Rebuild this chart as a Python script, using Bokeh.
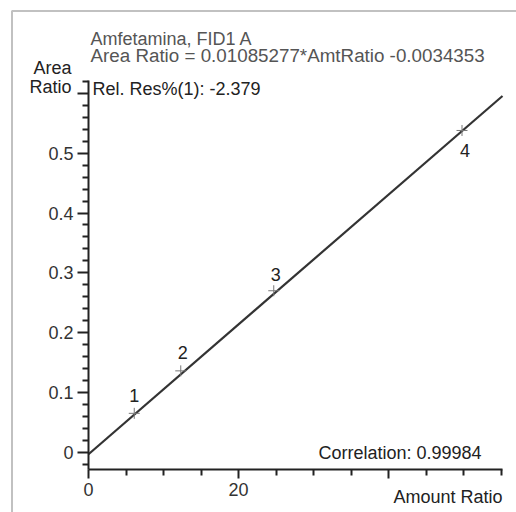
from bokeh.plotting import figure
from bokeh.models import Range1d, LinearAxis, FixedTicker, Label, BoxAnnotation, ColumnDataSource
from bokeh.embed import file_html
from bokeh.resources import INLINE
from bokeh.core.properties import value

# ---- chart content ----
compound = "Amfetamina, FID1 A"
slope = 0.01085277
intercept = -0.0034353
rel_res = -2.379
correlation = 0.99984
levels = ["1", "2", "3", "4"]
amount_ratio = [6.1, 12.3, 24.7, 49.8]
area_ratio = [0.065, 0.136, 0.270, 0.538]
x_ticks = [0, 20, 40]
x_tick_labels = ["0", "20", ""]
x_minor = [5, 10, 15, 25, 30, 35, 45, 50, 55]
y_ticks = [0, 0.1, 0.2, 0.3, 0.4, 0.5, 0.6]
y_tick_labels = ["0", "0.1", "0.2", "0.3", "0.4", "0.5", ""]
y_minor = [-0.02, 0.02, 0.04, 0.06, 0.08, 0.12, 0.14, 0.16, 0.18, 0.22, 0.24, 0.26, 0.28,
           0.32, 0.34, 0.36, 0.38, 0.42, 0.44, 0.46, 0.48, 0.52, 0.54, 0.56, 0.58, 0.62]
x_axis_max = 55.2
y_axis_min, y_axis_max = -0.029, 0.622

# ---- layout (pixel geometry of the canvas) ----
W, H = 516, 512
X0, XS = 88.0, 7.5     # pixel of x=0, pixels per x unit
Y0, YS = 451.7, 598.0  # pixel of y=0, pixels per y unit


def dx(px):
    return (px - X0) / XS


def dy(py):
    return (Y0 - py) / YS


FONT = "Liberation Sans"
FS = "18px"
SHIFT = 7  # compensation for text baseline placement

p = figure(width=W, height=H, output_backend="svg", toolbar_location=None,
           x_range=Range1d(dx(0), dx(W)), y_range=Range1d(dy(H), dy(0)),
           x_axis_type=None, y_axis_type=None, min_border=0)
p.outline_line_color = None
p.background_fill_color = "white"
p.border_fill_color = "white"

axis_style = dict(axis_line_color="#222", axis_line_width=2,
                  major_tick_line_color="#222", major_tick_line_width=2,
                  minor_tick_line_color="#222", minor_tick_line_width=2,
                  major_tick_in=0, minor_tick_in=0, minor_tick_out=6,
                  major_label_text_font=FONT, major_label_text_font_size=FS,
                  major_label_text_color="#333", axis_label=None)

xa = LinearAxis(fixed_location=y_axis_min, bounds=(0, x_axis_max),
                ticker=FixedTicker(ticks=x_ticks, minor_ticks=x_minor),
                major_label_overrides=dict(zip(x_ticks, x_tick_labels)),
                major_tick_out=9, major_label_standoff=4, **axis_style)
p.add_layout(xa, "below")

ya = LinearAxis(fixed_location=0, bounds=(y_axis_min, y_axis_max),
                ticker=FixedTicker(ticks=y_ticks, minor_ticks=y_minor),
                major_label_overrides=dict(zip(y_ticks, y_tick_labels)),
                major_tick_out=11, major_label_standoff=4, **axis_style)
p.add_layout(ya, "left")

# outer frame (left and top lines)
p.add_layout(BoxAnnotation(left=dx(11.5), top=dy(10.5), right=dx(W + 30), bottom=dy(H + 30),
                           fill_alpha=0, line_color="#333", line_width=2))

# calibration line
p.line(x=[0, x_axis_max], y=[intercept, slope * x_axis_max + intercept],
       line_color="#333", line_width=2.2)

# calibration points
src = ColumnDataSource(dict(x=amount_ratio, y=area_ratio, lab=levels,
                            xo=[0, 2, 2, 3], yo=[-18, -18, -16, 20]))
p.scatter("x", "y", source=src, marker="cross", size=11, line_color="#777", line_width=1)
p.text("x", "y", text="lab", source=src, x_offset="xo", y_offset="yo",
       text_align="center", text_baseline="alphabetic",
       text_font=value(FONT), text_font_size=FS, text_color="#222")


def lab(px, py, text, color="#222", align="left", size=FS):
    p.add_layout(Label(x=dx(px), y=dy(py - SHIFT), text=text, text_font=FONT, text_font_size=size,
                       text_color=color, text_align=align, text_baseline="alphabetic"))


lab(90, 45, compound, "#555")
lab(90, 62, f"Area Ratio = {slope}*AmtRatio {intercept}", "#555", size="18.8px")
lab(71, 74, "Area", align="right")
lab(71, 93, "Ratio", align="right")
lab(92, 95, f"Rel. Res%(1): {rel_res}")
lab(481, 459, f"Correlation: {correlation}", align="right")
lab(393, 503, "Amount Ratio")

open("out.html", "w").write(file_html(p, INLINE))
